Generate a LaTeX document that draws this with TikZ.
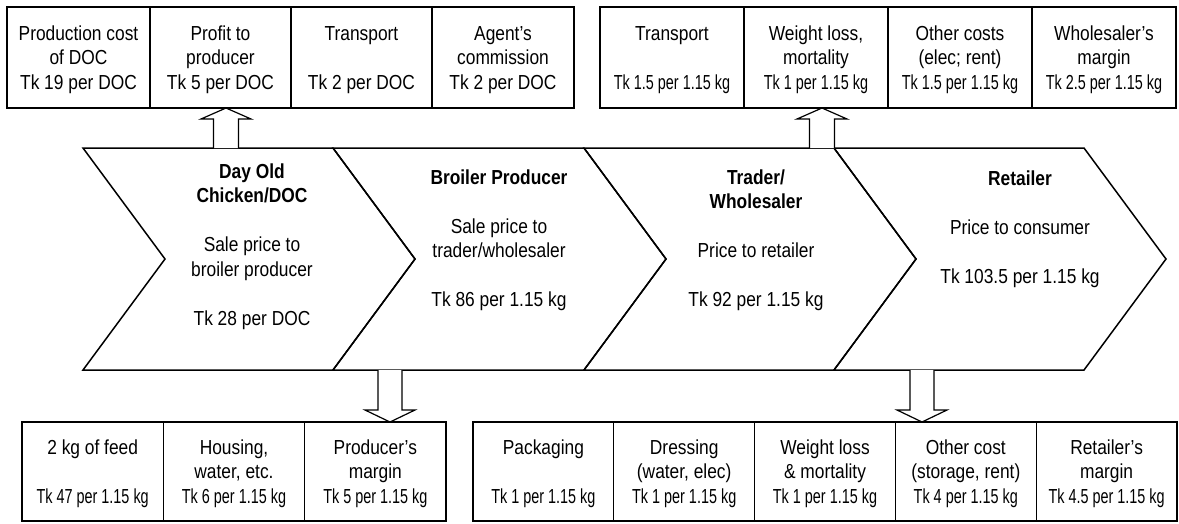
\documentclass[tikz,border=0pt]{standalone}
\usepackage{fontspec}
\setmainfont{Liberation Sans}[FakeStretch=0.855]
\newfontfamily\narfont{Liberation Sans}[FakeStretch=0.71]
\usetikzlibrary{calc}
\newcommand{\tkn}[1]{{\narfont #1}}
\newcommand{\up}{\rule{0pt}{19pt}}
\begin{document}
\begin{tikzpicture}[x=1pt,y=-1pt,
  cell/.style={draw, line width=1.2pt, inner sep=0pt, align=center,
    font={\fontsize{20.3}{24.5}\selectfont}},
  topcell/.style={cell, minimum height=101pt},
  botcell/.style={cell, minimum height=99pt},
  chevtext/.style={align=center, inner sep=0pt, font={\fontsize{20.3}{24.5}\selectfont}},
  chev/.style={draw, line width=1.5pt, line join=miter},
  barrow/.style={draw, line width=1.2pt, fill=white, line join=miter},
  uparr/.pic={\draw[barrow] (-12.5,0) -- (-12.5,-29) -- (-25,-29) -- (0,-40) -- (25,-29) -- (12.5,-29) -- (12.5,0);},
  downarr/.pic={\draw[barrow] (-12,0) -- (-12,40) -- (-25,40) -- (0,52) -- (25,40) -- (12,40) -- (12,0);}
]
\useasboundingbox (0,0) rectangle (1179,523);
\fill[white] (0,0) rectangle (1179,523);

% chevrons
\draw[chev] (83,148) -- ++(250,0) -- ++(82,111) -- ++(-82,111) -- ++(-250,0) -- ++(82,-111) -- cycle;
\draw[chev] (333,148) -- ++(251,0) -- ++(82,111) -- ++(-82,111) -- ++(-251,0) -- ++(82,-111) -- cycle;
\draw[chev] (584,148) -- ++(250,0) -- ++(82,111) -- ++(-82,111) -- ++(-250,0) -- ++(82,-111) -- cycle;
\draw[chev] (834,148) -- ++(250,0) -- ++(82,111) -- ++(-82,111) -- ++(-250,0) -- ++(82,-111) -- cycle;

\node[chevtext] (c1) at (252,246.5) {\textbf{Day Old}\\\textbf{Chicken/DOC}\\~\\Sale price to\\broiler producer\\~\\Tk 28 per DOC};
\node[chevtext] (c2) at (499,240) {\textbf{Broiler Producer}\\~\\Sale price to\\trader/wholesaler\\~\\Tk 86 per 1.15 kg};
\node[chevtext] (c3) at (756,240) {\textbf{Trader/}\\\textbf{Wholesaler}\\~\\Price to retailer\\~\\Tk 92 per 1.15 kg};
\node[chevtext] (c4) at (1020,229.5) {\textbf{Retailer}\\~\\Price to consumer\\~\\Tk 103.5 per 1.15 kg};

% top-left boxes
\node[topcell, minimum width=143pt] (t1) at (78.5,57.5) {\up Production cost\\of DOC\\Tk 19 per DOC};
\node[topcell, minimum width=141pt] (t2) at (220.5,57.5) {\up Profit to\\producer\\Tk 5 per DOC};
\node[topcell, minimum width=141pt] (t3) at (361.5,57.5) {\up Transport\\~\\Tk 2 per DOC};
\node[topcell, minimum width=142pt] (t4) at (503,57.5) {\up Agent’s\\commission\\Tk 2 per DOC};

% top-right boxes
\node[topcell, minimum width=144pt] (r1) at (672,57.5) {\up Transport\\~\\\tkn{Tk 1.5 per 1.15 kg}};
\node[topcell, minimum width=144pt] (r2) at (816,57.5) {\up Weight loss,\\mortality\\\tkn{Tk 1 per 1.15 kg}};
\node[topcell, minimum width=144pt] (r3) at (960,57.5) {\up Other costs\\(elec; rent)\\\tkn{Tk 1.5 per 1.15 kg}};
\node[topcell, minimum width=144pt] (r4) at (1104,57.5) {\up Wholesaler’s\\margin\\\tkn{Tk 2.5 per 1.15 kg}};

% bottom-left boxes
\node[botcell, minimum width=141.33pt] (b1) at (92.67,471.5) {\up 2 kg of feed\\~\\\tkn{Tk 47 per 1.15 kg}};
\node[botcell, minimum width=141.33pt] (b2) at (234,471.5) {\up Housing,\\water, etc.\\\tkn{Tk 6 per 1.15 kg}};
\node[botcell, minimum width=141.33pt] (b3) at (375.33,471.5) {\up Producer’s\\margin\\\tkn{Tk 5 per 1.15 kg}};

% bottom-right boxes
\node[botcell, minimum width=140.8pt] (s1) at (543.4,471.5) {\up Packaging\\~\\\tkn{Tk 1 per 1.15 kg}};
\node[botcell, minimum width=140.8pt] (s2) at (684.2,471.5) {\up Dressing\\(water, elec)\\\tkn{Tk 1 per 1.15 kg}};
\node[botcell, minimum width=140.8pt] (s3) at (825,471.5) {\up Weight loss\\\& mortality\\\tkn{Tk 1 per 1.15 kg}};
\node[botcell, minimum width=140.8pt] (s4) at (965.8,471.5) {\up Other cost\\(storage, rent)\\\tkn{Tk 4 per 1.15 kg}};
\node[botcell, minimum width=140.8pt] (s5) at (1106.6,471.5) {\up Retailer’s\\margin\\\tkn{Tk 4.5 per 1.15 kg}};

% block arrows
\coordinate (a1) at (226,148);
\coordinate (a2) at (822,148);
\coordinate (a3) at (390,370);
\coordinate (a4) at (922,370);
\pic at (a1) {uparr};
\pic at (a2) {uparr};
\pic at (a3) {downarr};
\pic at (a4) {downarr};
\end{tikzpicture}
\end{document}
